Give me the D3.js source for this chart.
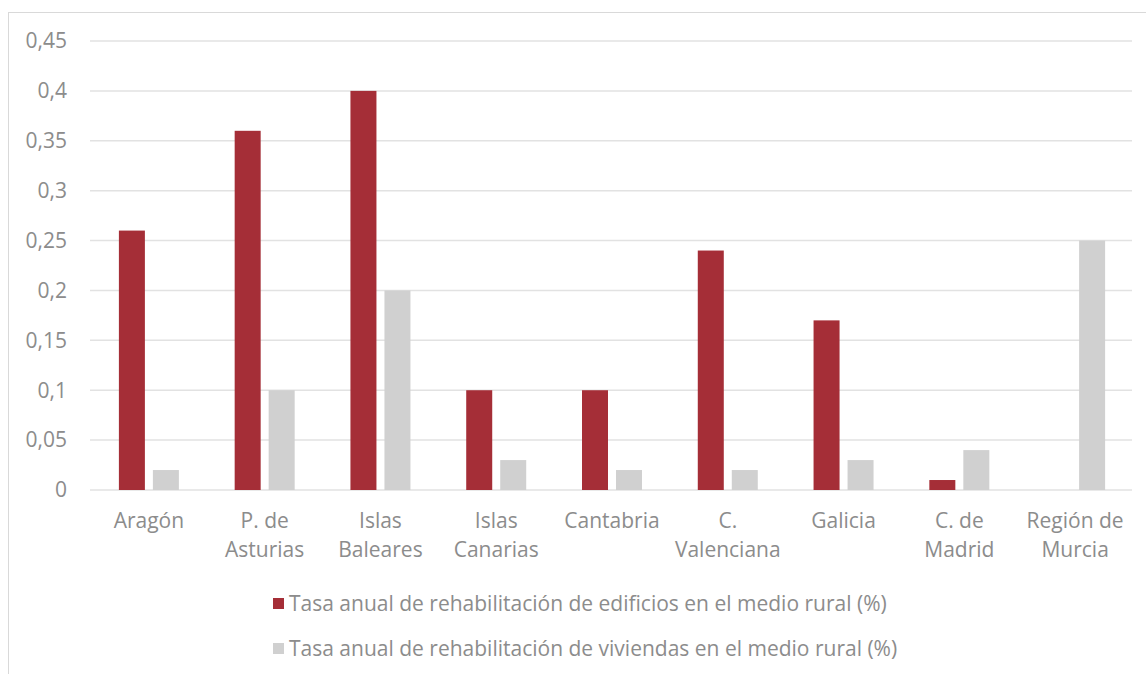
<html>
<head>
    <meta charset="utf-8">
    <style>
        body { margin: 0; background: #fff; }
        text { font-family: "Open Sans", sans-serif; fill: #8c8c8c; font-size: 21px; }
        .grid line { stroke: #e2e2e2; stroke-width: 1.5; }
    </style>
</head>
<body>
    <script src="https://cdn.jsdelivr.net/npm/d3@7"></script>
    <script>
        var categories = [["Aragón"], ["P. de", "Asturias"], ["Islas", "Baleares"], ["Islas", "Canarias"],
            ["Cantabria"], ["C.", "Valenciana"], ["Galicia"], ["C. de", "Madrid"], ["Región de", "Murcia"]];
        var edificios = [0.26, 0.36, 0.4, 0.1, 0.1, 0.24, 0.17, 0.01, 0];
        var viviendas = [0.02, 0.1, 0.2, 0.03, 0.02, 0.02, 0.03, 0.04, 0.25];
        var yTicks = [0, 0.05, 0.1, 0.15, 0.2, 0.25, 0.3, 0.35, 0.4, 0.45];
        var seriesNames = ["Tasa anual de rehabilitación de edificios en el medio rural (%)",
            "Tasa anual de rehabilitación de viviendas en el medio rural (%)"];
        var colors = ["#a52e37", "#d0d0d0"];

        var width = 1146, height = 674;
        var plotLeft = 90, plotRight = 1132, plotTop = 41, plotBottom = 490;

        var svg = d3.select("body").append("svg")
            .attr("width", width)
            .attr("height", height);

        svg.append("rect")
            .attr("x", 8.5).attr("y", 12.5)
            .attr("width", width - 8).attr("height", height - 8)
            .attr("fill", "none").attr("stroke", "#d9d9d9");

        var x = d3.scaleBand().domain(d3.range(categories.length)).range([plotLeft, plotRight]);
        var y = d3.scaleLinear().domain([0, 0.45]).range([plotBottom, plotTop]);
        var fmt = function(d) { return String(d).replace(".", ","); };

        var grid = svg.append("g").attr("class", "grid");
        grid.selectAll("line").data(yTicks).enter().append("line")
            .attr("x1", plotLeft).attr("x2", plotRight)
            .attr("y1", function(d) { return y(d); })
            .attr("y2", function(d) { return y(d); });

        svg.append("g").selectAll("text").data(yTicks).enter().append("text")
            .attr("x", 67).attr("y", function(d) { return y(d); })
            .attr("dy", "0.35em")
            .attr("text-anchor", "end")
            .text(fmt);

        var bw = 26, gap = 8;
        [edificios, viviendas].forEach(function(vals, s) {
            svg.append("g").selectAll("rect").data(vals).enter().append("rect")
                .attr("x", function(d, i) {
                    var c = x(i) + x.bandwidth() / 2 + 1;
                    return s === 0 ? c - gap / 2 - bw : c + gap / 2;
                })
                .attr("y", function(d) { return y(d); })
                .attr("width", bw)
                .attr("height", function(d) { return plotBottom - y(d); })
                .attr("fill", colors[s]);
        });

        var labels = svg.append("g").selectAll("text").data(categories).enter().append("text")
            .attr("text-anchor", "middle")
            .attr("transform", function(d, i) { return "translate(" + (x(i) + x.bandwidth() / 2 + 1) + ",528)"; });
        labels.selectAll("tspan").data(function(d) { return d; }).enter().append("tspan")
            .attr("x", 0)
            .attr("y", function(d, j) { return j * 29; })
            .text(function(d) { return d; });

        var legend = svg.append("g").selectAll("g").data(seriesNames).enter().append("g")
            .attr("transform", function(d, i) { return "translate(273," + (604 + i * 45) + ")"; });
        legend.append("rect")
            .attr("x", 0).attr("y", -6).attr("width", 11).attr("height", 11)
            .attr("fill", function(d, i) { return colors[i]; });
        legend.append("text")
            .attr("x", 16).attr("dy", "0.35em")
            .text(function(d) { return d; });
    </script>
</body>
</html>
